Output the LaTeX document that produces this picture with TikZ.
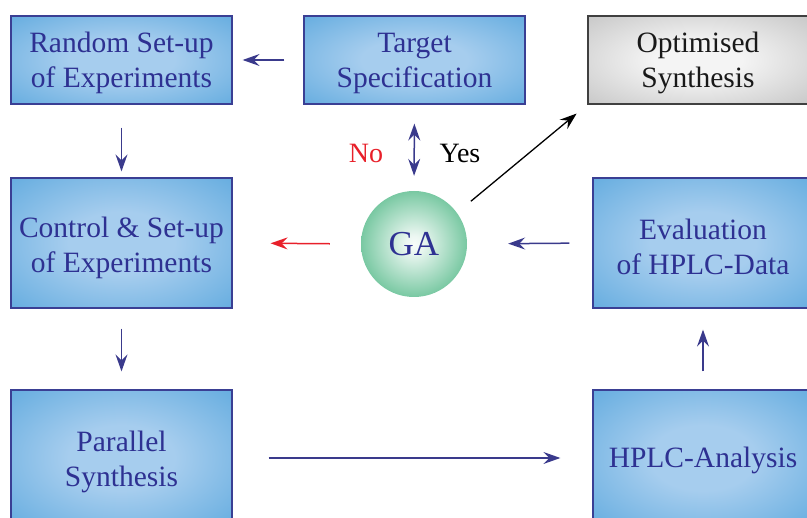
\documentclass[tikz,border=0pt]{standalone}
\usepackage{fontspec}
\setmainfont{Liberation Serif}
\usetikzlibrary{arrows.meta,shapes.geometric}
\definecolor{txtblue}{HTML}{2E3192}
\definecolor{boxblue}{HTML}{5AA7DD}
\definecolor{boxlight}{HTML}{A6CDEE}
\definecolor{boxline}{HTML}{3A3F94}
\definecolor{arrblue}{HTML}{3A3A8C}
\definecolor{arrred}{HTML}{E8202A}
\definecolor{gaout}{HTML}{3DB079}
\definecolor{grayout}{HTML}{BDBDBD}
\definecolor{graylight}{HTML}{F4F4F4}
\pgfdeclareradialshading{blueshade}{\pgfpoint{0bp}{0bp}}{color(0bp)=(boxlight); color(12bp)=(boxlight); color(40bp)=(boxblue); color(100bp)=(boxblue)}
\pgfdeclareradialshading{grayshade}{\pgfpoint{0bp}{0bp}}{color(0bp)=(graylight); color(10bp)=(graylight); color(42bp)=(grayout); color(100bp)=(grayout)}
\pgfdeclareradialshading{greenshade}{\pgfpoint{0bp}{0bp}}{color(0bp)=(white!96!gaout); color(4bp)=(white!90!gaout); color(36bp)=(gaout); color(100bp)=(gaout)}
\tikzset{
  bluebox/.style={draw=boxline, line width=1.2pt, shading=blueshade, inner sep=0pt},
  graybox/.style={draw=black!75, line width=1.2pt, shading=grayshade, inner sep=0pt},
  boxtext/.style={text=txtblue, align=center, font=\fontsize{29.5}{35}\selectfont, inner sep=0pt},
  graytext/.style={text=black!90, align=center, font=\fontsize{29.5}{35}\selectfont, inner sep=0pt},
  tip/.tip={Stealth[length=17pt,width=12pt,inset=6pt]},
  flow/.style={draw=arrblue, line width=1.5pt, -tip},
  redflow/.style={draw=arrred, line width=1.5pt, -tip},
  blackflow/.style={draw=black, line width=1.3pt, -tip},
  lbl/.style={font=\fontsize{28}{32}\selectfont, inner sep=0pt}
}
\begin{document}
\begin{tikzpicture}[x=1pt,y=-1pt]
\useasboundingbox (0,0) rectangle (807,518);
\clip (0,0) rectangle (807,518);
\node[bluebox, minimum width=221pt, minimum height=88pt] (rnd) at (121.5,60) {};
\node[boxtext] (rndt) at ([yshift=-3pt]rnd.center) {Random Set-up\\of Experiments};
\node[bluebox, minimum width=221pt, minimum height=88pt] (tgt) at (414.5,60) {};
\node[boxtext] (tgtt) at ([yshift=-3pt]tgt.center) {Target\\Specification};
\node[graybox, minimum width=220pt, minimum height=88pt] (opt) at (698,60) {};
\node[graytext] (optt) at ([yshift=-3pt]opt.center) {Optimised\\Synthesis};
\node[bluebox, minimum width=221pt, minimum height=130pt] (ctl) at (121.5,243) {};
\node[boxtext] (ctlt) at ([yshift=-5pt]ctl.center) {Control \& Set-up\\of Experiments};
\node[bluebox, minimum width=220pt, minimum height=130pt] (evl) at (703,243) {};
\node[boxtext] (evlt) at ([yshift=-4pt]evl.center) {Evaluation\\of HPLC-Data};
\node[bluebox, minimum width=221pt, minimum height=136pt] (par) at (121.5,458) {};
\node[boxtext] (part) at ([yshift=-4pt]par.center) {Parallel\\Synthesis};
\node[bluebox, minimum width=220pt, minimum height=136pt] (hplc) at (703,458) {};
\node[boxtext] (hplct) at ([yshift=-2pt]hplc.center) {HPLC-Analysis};
\node[circle, minimum size=106pt, inner sep=0pt, shading=greenshade,
  text=txtblue, font=\fontsize{35}{38}\selectfont] (ga) at (414,244) {GA};
\node[lbl, text=arrred] (no) at (366,153) {No};
\node[lbl, text=black] (yes) at (460,153) {Yes};
\draw[flow, shorten <=19pt, shorten >=10pt] (tgt.west) -- (rnd.east);
\draw[flow, shorten <=23pt, shorten >=6pt] (rnd.south) -- (ctl.north);
\draw[flow, shorten <=20pt, shorten >=18pt] (ctl.south) -- (par.north);
\draw[flow, shorten <=36pt, shorten >=32pt] (par.east) -- (hplc.west);
\draw[flow, shorten <=18pt, shorten >=21pt] (hplc.north) -- (evl.south);
\draw[flow, shorten <=23pt, shorten >=41pt] (evl.west) -- (ga.east);
\draw[redflow, shorten <=31pt, shorten >=38pt] (ga.west) -- (ctl.east);
\draw[blackflow, shorten <=18pt, shorten >=14pt] (ga.36) -- (opt.south west);
\draw[flow, tip-tip, shorten <=19pt, shorten >=15pt] (tgt.south) -- (ga.north);
\end{tikzpicture}
\end{document}
